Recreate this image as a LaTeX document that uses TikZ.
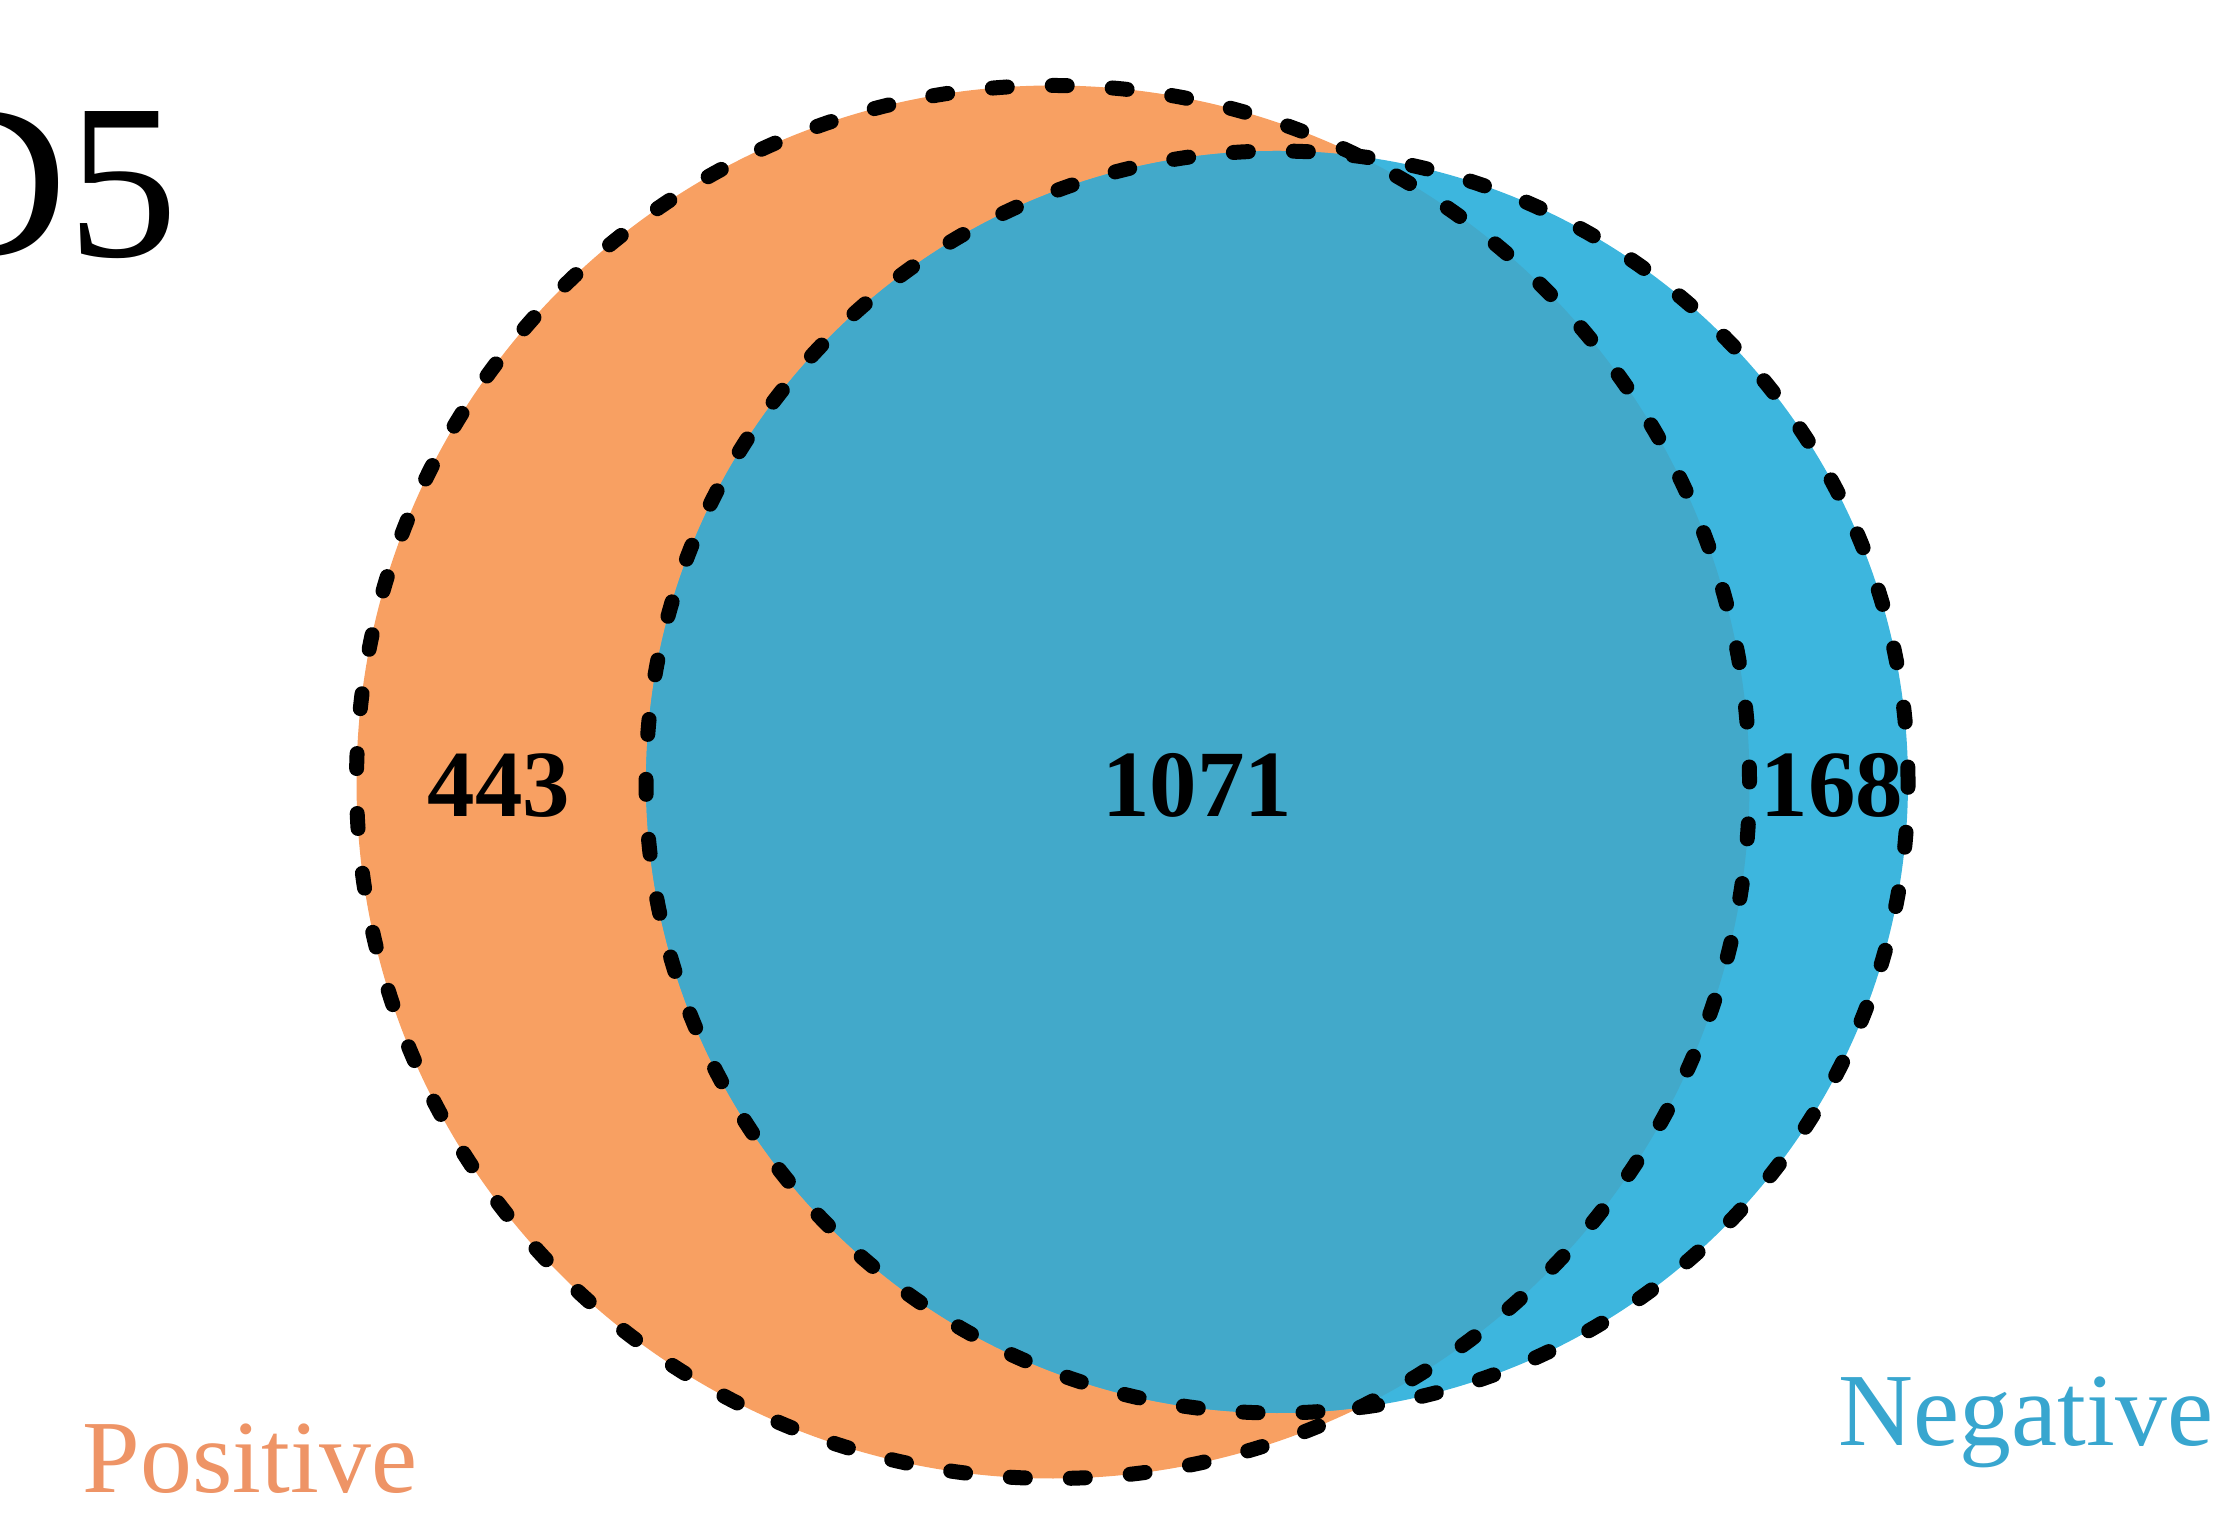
\documentclass[tikz,border=0pt]{standalone}
\usepackage{fontspec}
\setmainfont{Liberation Serif}
\usepackage{xcolor}
\usepackage{tikz}
\definecolor{posorange}{HTML}{F8A062}
\definecolor{negblue}{HTML}{3DB6DE}
\definecolor{bothblue}{HTML}{42A9CA}
\definecolor{postext}{HTML}{EE9466}
\definecolor{negtext}{HTML}{38A6CF}

\begin{document}
\begin{tikzpicture}[
  ring/.style={draw=black,line width=0.15cm,line cap=round,dash pattern=on 0.15cm off 0.45cm},
  count/.style={font=\fontsize{27}{27}\selectfont\bfseries,inner sep=0pt,anchor=base},
  setlab/.style={font=\fontsize{29.5}{29.5}\selectfont,inner sep=0pt,anchor=base}]

  \useasboundingbox (0,0) rectangle (22.4,15.21);
  \clip (0,0) rectangle (22.4,15.21);

  % panel tag, cut at the left border
  \node[font=\fontsize{63}{63}\selectfont,inner sep=0pt,anchor=base east] (tag) at (1.79,12.64) {D5};

  % set centres
  \coordinate (pc) at (10.53,7.39);
  \coordinate (nc) at (12.77,7.39);

  % fills
  \fill[posorange] (pc) circle (6.965);
  \fill[negblue] (nc) circle (6.31);
  \begin{scope}
    \clip (pc) circle (6.965);
    \fill[bothblue] (nc) circle (6.31);
  \end{scope}

  % dotted outlines
  \draw[ring] (pc) circle (6.965);
  \draw[ring] (nc) circle (6.31);

  % counts
  \node[count] (onlypos) at (4.99,7.04)  {443};
  \node[count] (both)    at (11.97,7.04) {1071};
  \node[count] (onlyneg) at (18.32,7.04) {168};

  % set names
  \node[setlab,text=postext] (poslab) at (2.50,0.29) {Positive};
  \node[setlab,text=negtext] (neglab) at (20.26,0.76) {Negative};
\end{tikzpicture}
\end{document}
